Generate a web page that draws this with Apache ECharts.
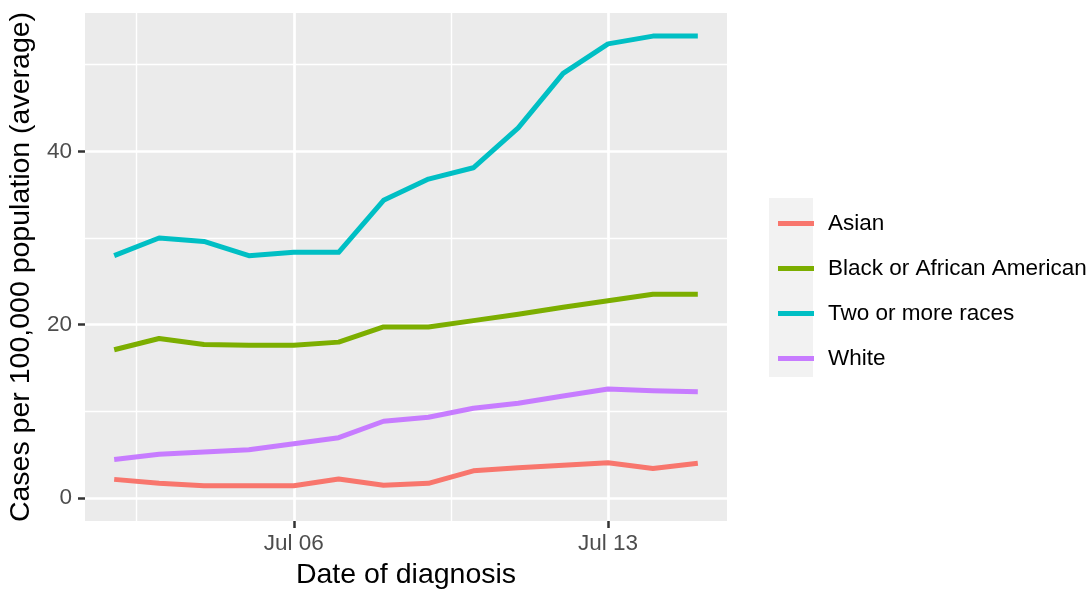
<!DOCTYPE html>
<html>
<head>
<meta charset="utf-8">
<script src="https://cdn.jsdelivr.net/npm/echarts@6/dist/echarts.min.js"></script>
<style>
html,body{margin:0;padding:0;background:#fff;}
#chart{width:1092px;height:590px;}
</style>
</head>
<body>
<div id="chart"></div>
<script>
const dates = ['2020-07-02','2020-07-03','2020-07-04','2020-07-05','2020-07-06','2020-07-07','2020-07-08',
               '2020-07-09','2020-07-10','2020-07-11','2020-07-12','2020-07-13','2020-07-14','2020-07-15'];
const seriesNames = ['Asian','Black or African American','Two or more races','White'];
const asian = [2.14,1.68,1.41,1.41,1.41,2.18,1.45,1.68,3.13,3.47,3.78,4.05,3.40,4.00];
const black = [17.1,18.4,17.7,17.63,17.63,17.98,19.73,19.73,20.46,21.2,22.0,22.75,23.5,23.5];
const twoOrMore = [27.96,30.0,29.6,27.96,28.35,28.35,34.35,36.8,38.1,42.7,49.0,52.4,53.3,53.3];
const white = [4.43,5.04,5.3,5.57,6.26,6.95,8.85,9.31,10.34,10.92,11.76,12.56,12.37,12.25];
const colors = ['#F8766D','#7CAE00','#00BFC4','#C77CFF'];
const yMajorTicks = [0,20,40];
const yMinorTicks = [10,30,50];
const xMajorTicks = [6,13];
const xMinorTicks = [2.5,9.5];

const dayOf = d => new Date(d + 'T00:00:00Z').getUTCDate();
const xs = dates.map(dayOf);
const allVals = [asian,black,twoOrMore,white];
const FONT = '"Liberation Sans", Arial, sans-serif';

// ggplot-like 5% expansion of data ranges (y limits include 0)
const yDataMin = 0;
const yDataMax = Math.max(...allVals.flat());
const yPad = (yDataMax - yDataMin) * 0.05;
const xPad = (xs[xs.length-1] - xs[0]) * 0.05;
const yMin = yDataMin - yPad, yMax = yDataMax + yPad;
const xMin = xs[0] - xPad, xMax = xs[xs.length-1] + xPad;

const chart = echarts.init(document.getElementById('chart'), null, {renderer:'canvas'});
const series = seriesNames.map((n,i) => ({
  name: n,
  type: 'line',
  xAxisIndex: 0,
  yAxisIndex: 0,
  data: xs.map((x,j) => [x, allVals[i][j]]),
  showSymbol: false,
  symbol: 'none',
  lineStyle: {width: 5, color: colors[i], cap: 'butt', join: 'round'},
  itemStyle: {color: colors[i]},
  z: 5
}));

chart.setOption({
  animation: false,
  textStyle: {fontFamily: FONT},
  grid: {left: 85, right: 365, top: 13, bottom: 69, show: true, backgroundColor: '#EBEBEB', borderWidth: 0,
         containLabel: false, outerBoundsMode: 'none'},
  graphic: [{type:'rect', left: 769, top: 198, shape:{width: 44, height: 179}, style:{fill:'#F2F2F2'}, z: 0}],
  legend: {
    orient: 'vertical', left: 773, top: 196, itemGap: 0,
    icon: 'rect', itemWidth: 36, itemHeight: 5,
    data: seriesNames,
    textStyle: {fontSize: 22.5, color: '#000', fontFamily: FONT, lineHeight: 45, padding: [0,0,0,9]}
  },
  xAxis: [
    {
      type: 'value', position: 'bottom', min: xMin, max: xMax,
      axisLine: {show: false, onZero: false},
      axisTick: {show: false, customValues: xMinorTicks},
      axisLabel: {show: false, customValues: xMinorTicks},
      splitLine: {show: true, lineStyle: {color: '#FFFFFF', width: 1.4}}
    },
    {
      type: 'value', position: 'bottom', min: xMin, max: xMax,
      name: 'Date of diagnosis', nameLocation: 'middle', nameGap: 40,
      nameTextStyle: {fontSize: 28.5, color: '#000', fontFamily: FONT},
      axisLine: {show: false, onZero: false},
      axisTick: {show: true, length: 7, lineStyle: {color: '#333333', width: 2.5}, customValues: xMajorTicks},
      axisLabel: {show: true, fontSize: 22.5, color: '#4D4D4D', margin: 11, fontFamily: FONT,
        customValues: xMajorTicks,
        formatter: v => 'Jul ' + String(Math.round(v)).padStart(2,'0')},
      splitLine: {show: true, lineStyle: {color: '#FFFFFF', width: 2.7}}
    }
  ],
  yAxis: [
    {
      type: 'value', position: 'left', min: yMin, max: yMax,
      axisLine: {show: false, onZero: false},
      axisTick: {show: false, customValues: yMinorTicks},
      axisLabel: {show: false, customValues: yMinorTicks},
      splitLine: {show: true, lineStyle: {color: '#FFFFFF', width: 1.4}}
    },
    {
      type: 'value', position: 'left', min: yMin, max: yMax,
      name: 'Cases per 100,000 population (average)', nameLocation: 'middle', nameGap: 37,
      nameTextStyle: {fontSize: 28.5, color: '#000', fontFamily: FONT},
      axisLine: {show: false, onZero: false},
      axisTick: {show: true, length: 7, lineStyle: {color: '#333333', width: 2.5}, customValues: yMajorTicks},
      axisLabel: {show: true, fontSize: 22.5, color: '#4D4D4D', margin: 13, fontFamily: FONT,
        customValues: yMajorTicks},
      splitLine: {show: true, lineStyle: {color: '#FFFFFF', width: 2.7}}
    }
  ],
  series: series
});
</script>
</body>
</html>
